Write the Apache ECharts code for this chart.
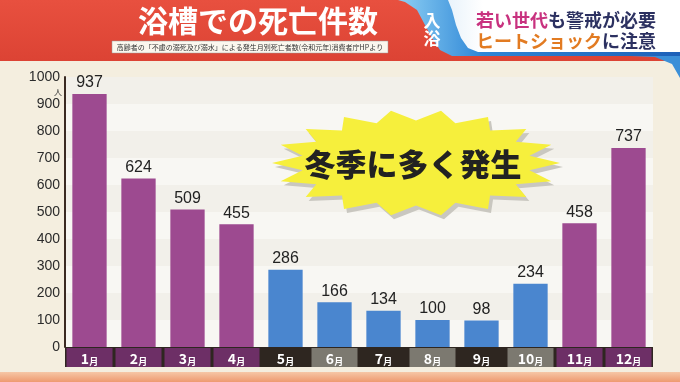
<!DOCTYPE html>
<html><head><meta charset="utf-8">
<script src="https://cdn.jsdelivr.net/npm/echarts@6/dist/echarts.min.js"></script>
<style>html,body{margin:0;padding:0;background:#f4eedf;}#c{width:680px;height:382px;}</style>
</head><body><div id="c"></div>
<script>
const months = ['1月','2月','3月','4月','5月','6月','7月','8月','9月','10月','11月','12月'];
const deaths = [937, 624, 509, 455, 286, 166, 134, 100, 98, 234, 458, 737];
const yTicks = [0,100,200,300,400,500,600,700,800,900,1000];
const title = '浴槽での死亡件数';
const subtitle = '高齢者の「不慮の溺死及び溺水」による発生月別死亡者数(令和元年)消費者庁HPより';
const callout = '冬季に多く発生';

// style lookups (by month index)
const barColor = i => (i <= 3 || i >= 10) ? '#9d4a90' : '#4a86cf';
const boxColor = i => (i <= 3 || i >= 10) ? '#6d2f66' : (i % 2 === 1 ? '#7c7970' : '#2e2620');

const FONT = '"Noto Sans CJK JP", "Noto Sans", sans-serif';
const NUMFONT = '"Liberation Sans", Arial, sans-serif';
const G = {left: 65, right: 27, top: 77, bottom: 35};
const W = 680, H = 382;

// starburst polygon
function burst(cx, cy, rx, ry, n, inner) {
  const pts = [];
  for (let k = 0; k < n * 2; k++) {
    const a = Math.PI * k / n;
    const f = k % 2 === 0 ? 1 : inner;
    pts.push([cx + rx * f * Math.cos(a), cy + ry * f * Math.sin(a)]);
  }
  return pts;
}
const bx = 416, by = 163;

const chart = echarts.init(document.getElementById('c'));
chart.setOption({
  backgroundColor: '#f4eedf',
  animation: false,
  grid: G,
  xAxis: {
    type: 'category',
    data: months.map((m, i) => ({
      value: m,
      textStyle: {backgroundColor: boxColor(i)}
    })),
    axisLine: {show: false},
    axisTick: {show: false},
    axisLabel: {
      interval: 0,
      margin: 1,
      width: 46,
      height: 17,
      lineHeight: 17,
      align: 'center',
      padding: [1, 0, 1, 0],
      color: '#fff',
      formatter: v => '{n|' + v.replace('月', '') + '}{m|月}',
      rich: {
        n: {fontSize: 14, fontWeight: 'bold', color: '#fff', fontFamily: FONT, verticalAlign: 'bottom', lineHeight: 17},
        m: {fontSize: 9, fontWeight: 'bold', color: '#fff', fontFamily: FONT, verticalAlign: 'bottom', lineHeight: 15}
      }
    }
  },
  yAxis: {
    type: 'value',
    min: 0, max: 1000, interval: 100,
    axisLine: {show: true, lineStyle: {color: '#3a2a22', width: 2}},
    axisTick: {show: false},
    splitLine: {show: false},
    splitArea: {show: true, areaStyle: {color: ['#f8f7f3', '#f2f0ea']}},
    axisLabel: {
      color: '#2b2b2b', fontSize: 14, fontFamily: NUMFONT, margin: 5,
      formatter: v => yTicks.includes(v) ? String(v) : ''
    }
  },
  series: [{
    type: 'bar',
    data: deaths.map((v, i) => ({value: v, itemStyle: {color: barColor(i)}})),
    barCategoryGap: '30%',
    label: {
      show: true, position: 'top', distance: 3,
      color: '#222', fontSize: 16, fontFamily: NUMFONT
    },
    z: 3
  }],
  graphic: [
    {type: 'rect', z: 0, shape: {x: G.left, y: H - G.bottom, width: W - G.left - G.right, height: 20}, style: {fill: '#2e2620'}},
    {type: 'rect', shape: {x: 0, y: 372, width: W, height: 10}, style: {fill: new echarts.graphic.LinearGradient(0,0,0,1,[{offset:0,color:'#f6c7a6'},{offset:1,color:'#ee9a70'}])}},
    {type: 'rect', shape: {x: 0, y: 0, width: W, height: 61}, style: {fill: new echarts.graphic.LinearGradient(0,0,0,1,[{offset:0,color:'#e8503f'},{offset:1,color:'#dc4334'}])}},
    {type: 'polygon', shape: {points: [[630,50],[680,50],[680,78],[672,64],[655,57],[630,56]]}, style: {fill: '#3b8fd8'}},
    {type: 'polygon', shape: {points: [[398,0],[680,0],[680,56],[452,56],[440,50],[432,38],[425,25],[417,10],[405,2]]}, style: {fill: new echarts.graphic.LinearGradient(0,0,1,0,[{offset:0,color:'#8ed0f4'},{offset:0.3,color:'#2e86d6'},{offset:1,color:'#1d60b8'}])}},
    {type: 'polygon', shape: {points: [[448,0],[680,0],[680,52],[478,52],[468,48],[461,38],[456,25],[452,10]]}, style: {fill: new echarts.graphic.LinearGradient(0,0,1,0,[{offset:0,color:'#e9f3fb'},{offset:0.15,color:'#ffffff'},{offset:1,color:'#ffffff'}])}},
    {type: 'text', style: {text: title, x: 258, y: 21, align: 'center', verticalAlign: 'middle', fontSize: 30, fontWeight: 'bold', fill: '#fff', fontFamily: FONT}},
    {type: 'rect', shape: {x: 112, y: 41, width: 276, height: 12}, style: {fill: '#fbf7ee', stroke: '#999', lineWidth: 0.5}},
    {type: 'text', style: {text: subtitle, x: 250, y: 47.5, align: 'center', verticalAlign: 'middle', fontSize: 7, fill: '#333', fontFamily: FONT}},
    {type: 'text', style: {text: '入\n浴', x: 432, y: 30, align: 'center', verticalAlign: 'middle', fontSize: 17, lineHeight: 18, fontWeight: 'bold', fill: '#fff', fontFamily: FONT}},
    {type: 'text', style: {x: 566, y: 20, align: 'center', verticalAlign: 'middle', fontFamily: FONT,
      text: '{a|若い世代}{b|も警戒が必要}',
      rich: {a: {fontSize: 18, fontWeight: 'bold', fill: '#c8327f', fontFamily: FONT}, b: {fontSize: 18, fontWeight: 'bold', fill: '#2c3161', fontFamily: FONT}}}},
    {type: 'text', style: {x: 566, y: 41, align: 'center', verticalAlign: 'middle', fontFamily: FONT,
      text: '{a|ヒートショック}{b|に注意}',
      rich: {a: {fontSize: 18, fontWeight: 'bold', fill: '#e27b22', fontFamily: FONT}, b: {fontSize: 18, fontWeight: 'bold', fill: '#2c3161', fontFamily: FONT}}}},
    {type: 'text', style: {text: '人', x: 58, y: 92, align: 'center', verticalAlign: 'middle', fontSize: 8, fill: '#333', fontFamily: FONT}},
    {type: 'polygon', z: 10, shape: {points: burst(bx + 3, by + 4, 144, 53, 18, 0.8)}, style: {fill: '#c9c7c0'}},
    {type: 'polygon', z: 11, shape: {points: burst(bx, by, 144, 53, 18, 0.8)}, style: {fill: '#f6ef3c'}},
    {type: 'text', z: 12, style: {text: callout, x: bx - 3, y: by + 1, align: 'center', verticalAlign: 'middle', fontSize: 31, fontWeight: 900, fill: '#222', fontFamily: FONT}}
  ]
});
</script></body></html>
